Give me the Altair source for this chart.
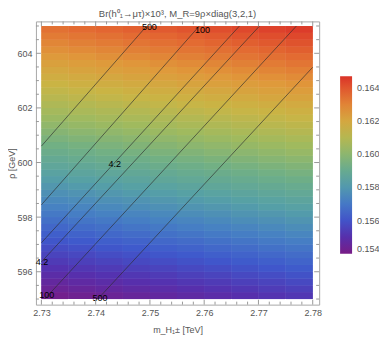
import altair as alt
import pandas as pd

FONT = "Liberation Sans"
GRAY = "#555555"
TICK = "#9a9a9a"
W, H = 284, 284

# ---- density field ----
# cell edges
x_edges = [2.730, 2.735, 2.740, 2.745, 2.750, 2.755, 2.760, 2.765, 2.770, 2.775, 2.780]
rho_edges = [595.00, 595.25, 595.50, 595.75, 596.00, 596.25, 596.50, 596.75, 597.00, 597.25,
             597.50, 597.75, 598.00, 598.25, 598.50, 598.75, 599.00, 599.25, 599.50, 599.75,
             600.00, 600.25, 600.50, 600.75, 601.00, 601.25, 601.50, 601.75, 602.00, 602.25,
             602.50, 602.75, 603.00, 603.25, 603.50, 603.75, 604.00, 604.25, 604.50, 604.75,
             605.00]
# value along the left-most column, from rho=595 (bottom) to 605 (top)
br_left = [0.15418, 0.15442, 0.15465, 0.15489, 0.15513, 0.15537, 0.15560, 0.15584,
           0.15608, 0.15632, 0.15655, 0.15679, 0.15703, 0.15727, 0.15750, 0.15774,
           0.15798, 0.15822, 0.15845, 0.15869, 0.15893, 0.15917, 0.15940, 0.15964,
           0.15988, 0.16012, 0.16035, 0.16059, 0.16083, 0.16107, 0.16130, 0.16154,
           0.16178, 0.16202, 0.16225, 0.16249, 0.16273, 0.16297, 0.16320, 0.16344]
# rise of the value across the columns (same on every row), from x=2.73 to 2.78
br_rise = [0.0, 0.00012, 0.00024, 0.00036, 0.00048, 0.00060, 0.00072, 0.00084, 0.00096, 0.00108]

# ---- contour lines (end points) and their labels ----
contour_id = ["A", "A", "B", "B", "C", "C", "D", "D", "E", "E", "F", "F"]
contour_x = [2.7494, 2.7300, 2.7591, 2.7300, 2.7665, 2.7300, 2.7702, 2.7300, 2.7770, 2.7306, 2.7800, 2.7404]
contour_y = [605.0, 600.60, 605.0, 598.45, 605.0, 597.06, 605.0, 596.36, 605.0, 595.0, 603.49, 595.0]

label_text = ["500", "100", "4.2", "4.2", "100", "500"]
label_x = [2.7499, 2.7597, 2.7435, 2.7301, 2.7310, 2.7408]
label_y = [604.95, 604.84, 599.96, 596.35, 595.16, 595.05]

# ---- ticks ----
x_major = [2.73, 2.74, 2.75, 2.76, 2.77, 2.78]
x_minor = [2.732, 2.734, 2.736, 2.738, 2.742, 2.744, 2.746, 2.748,
           2.752, 2.754, 2.756, 2.758, 2.762, 2.764, 2.766, 2.768,
           2.772, 2.774, 2.776, 2.778]
y_major = [596, 598, 600, 602, 604]
y_minor = [595.0, 595.5, 596.5, 597.0, 597.5, 598.5, 599.0, 599.5, 600.5, 601.0,
           601.5, 602.5, 603.0, 603.5, 604.5, 605.0]

legend_values = [0.154, 0.156, 0.158, 0.160, 0.162, 0.164]
color_stops = [0.154, 0.15507, 0.15614, 0.15721, 0.15828, 0.15935,
               0.16042, 0.16149, 0.16256, 0.16363, 0.1647]
color_range = ["#781C86", "#5530AE", "#3F58CC", "#4680C4", "#56A0A6", "#6FAF86",
               "#9EBA60", "#C9B545", "#E0983A", "#E36831", "#DA3328"]

cells = []
for i in range(len(rho_edges) - 1):
    for j in range(len(x_edges) - 1):
        cells.append({"x0": x_edges[j], "x1": x_edges[j + 1],
                      "y0": rho_edges[i], "y1": rho_edges[i + 1],
                      "br": br_left[i] + br_rise[j]})
cells = pd.DataFrame(cells)
cdf = pd.DataFrame({"id": contour_id, "x": contour_x, "y": contour_y})
ldf = pd.DataFrame({"t": label_text, "x": label_x, "y": label_y})

xs = alt.Scale(domain=[2.72899, 2.78119], nice=False, zero=False)
ys = alt.Scale(domain=[594.795, 605.168], nice=False, zero=False)

xaxis = alt.Axis(values=x_major, format=".2f", ticks=False, tickSize=0, domain=False,
                 grid=False, labelPadding=4, labelFontSize=9, labelColor=GRAY,
                 labelFont=FONT, labelFlush=False, title="m_H₁± [TeV]", titleFont=FONT,
                 titleFontSize=9, titleFontWeight="normal", titleColor=GRAY, titlePadding=8)
yaxis = alt.Axis(values=y_major, format=".0f", ticks=False, tickSize=0, domain=False,
                 grid=False, labelPadding=4, labelFontSize=9, labelColor=GRAY,
                 labelFont=FONT, labelFlush=False, title="ρ [GeV]", titleFont=FONT,
                 titleFontSize=9, titleFontWeight="normal", titleColor=GRAY, titlePadding=0)


def X(f):
    return alt.X(f, type="quantitative", scale=xs, axis=xaxis)


def Y(f):
    return alt.Y(f, type="quantitative", scale=ys, axis=yaxis)


cs = alt.Scale(domain=color_stops, range=color_range, interpolate="rgb")
leg = alt.Legend(type="gradient", orient="none", legendX=305, legendY=55, direction="vertical",
                 gradientLength=178, gradientThickness=12, title=None,
                 values=legend_values, format=".3f", labelFontSize=9, labelFont=FONT,
                 labelColor=GRAY, labelOffset=5, gradientStrokeWidth=0, padding=0,
                 labelBaseline="middle", labelLimit=60)


def heat_layer():
    return alt.Chart(cells).mark_rect().encode(
        x=X("x0"), x2="x1", y=Y("y0"), y2="y1",
        color=alt.Color("br:Q", scale=cs, legend=leg),
    )


# drawn twice so the anti-aliasing seams between cells disappear
heat = heat_layer()
heat_again = heat_layer()

lines = alt.Chart(cdf).mark_line(color="#2b2b2b", strokeWidth=0.9, opacity=0.7).encode(
    x=X("x"), y=Y("y"), detail="id:N")

labels = alt.Chart(ldf).mark_text(font=FONT, fontSize=9, color="black").encode(
    x=X("x"), y=Y("y"), text="t:N")


def ticks(values, side, length):
    d = pd.DataFrame({"v": values})
    if side == "bottom":
        enc = dict(x=X("v"), y=alt.value(H), y2=alt.value(H - length))
    elif side == "top":
        enc = dict(x=X("v"), y=alt.value(0), y2=alt.value(length))
    elif side == "left":
        enc = dict(y=Y("v"), x=alt.value(0), x2=alt.value(length))
    else:
        enc = dict(y=Y("v"), x=alt.value(W), x2=alt.value(W - length))
    return alt.Chart(d).mark_rule(color=TICK, strokeWidth=1).encode(**enc)


tick_layers = []
for side in ["bottom", "top"]:
    tick_layers.append(ticks(x_major, side, 5))
    tick_layers.append(ticks(x_minor, side, 3))
for side in ["left", "right"]:
    tick_layers.append(ticks(y_major, side, 5))
    tick_layers.append(ticks(y_minor, side, 3))

chart = alt.layer(heat, heat_again, lines, labels, *tick_layers).properties(
    width=W, height=H,
    autosize=alt.AutoSizeParams(type="none"),
    padding={"left": 28, "top": 13, "right": 60, "bottom": 30},
    title=alt.TitleParams(text="Br(h⁰₁→μτ)×10³, M_R=9ρ×diag(3,2,1)", font=FONT,
                          fontSize=9.5, fontWeight="normal", color=GRAY, offset=2,
                          frame="group", anchor="middle"),
).configure_view(stroke="#a8a8a8", strokeWidth=1)

chart.save("out.html", embed_options={"renderer": "svg", "actions": False})
